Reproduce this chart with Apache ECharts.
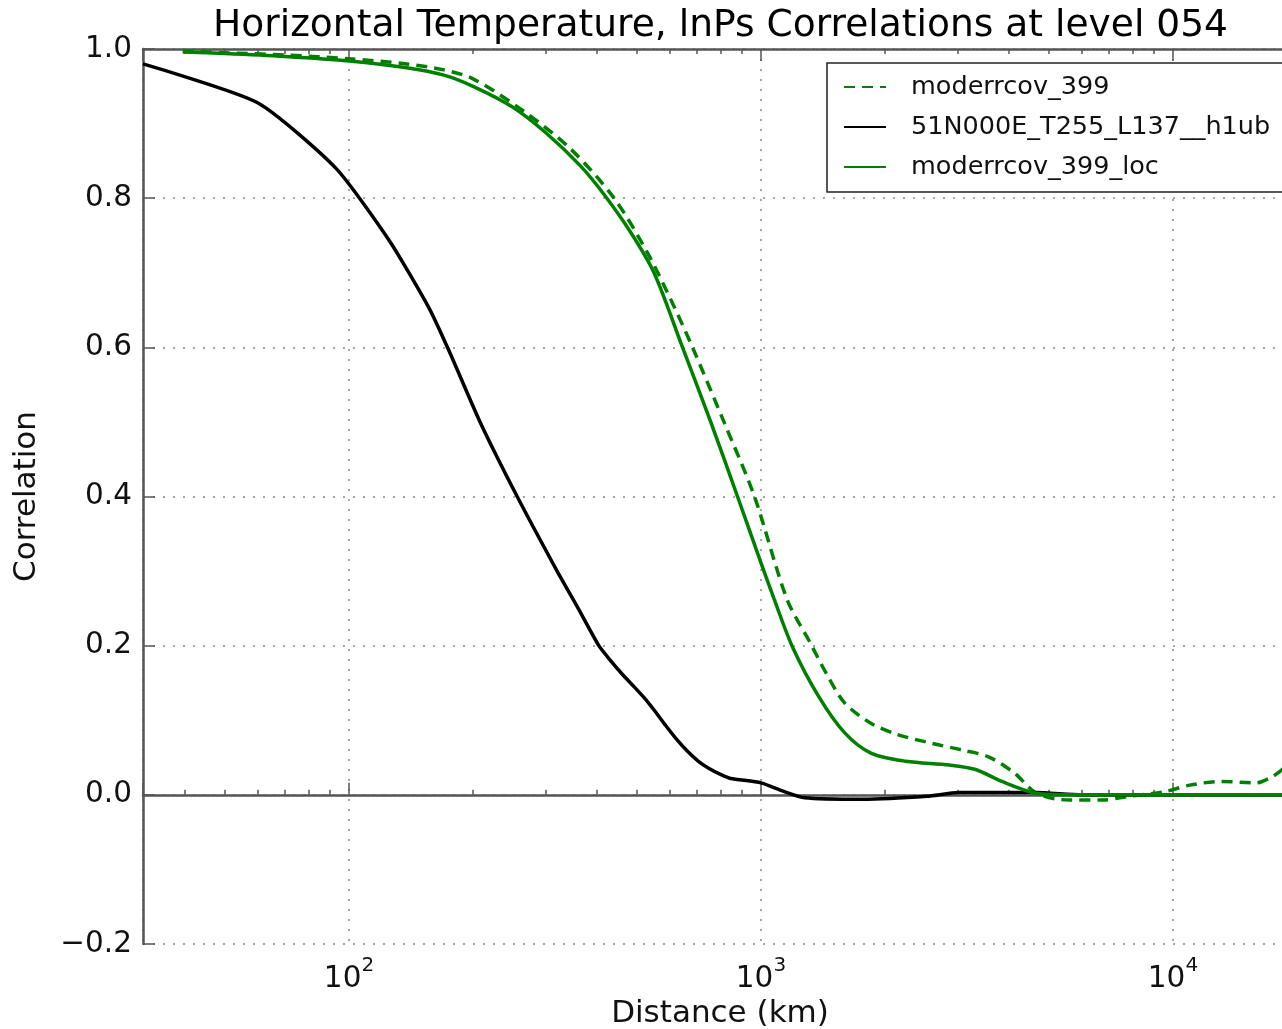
<!DOCTYPE html>
<html><head><meta charset="utf-8">
<script src="https://cdn.jsdelivr.net/npm/echarts@6/dist/echarts.min.js"></script>
<style>html,body{margin:0;padding:0;background:#fff}#c{width:1282px;height:1029px}</style>
</head><body><div id="c"></div>
<script>
// ---- data ----
const seriesNames = ['moderrcov_399', '51N000E_T255_L137__h1ub', 'moderrcov_399_loc'];

const distDash = [39.5, 50, 70, 100, 138, 170, 200, 265, 345, 440, 530, 604, 682, 813, 964, 1157, 1316, 1450, 1597, 1848, 2139, 2600, 3083, 3566, 4128, 4667, 5597, 6714, 7812, 9505, 10990, 13060, 15880, 17490, 18620, 20000];
const corrDash = [0.997, 0.995, 0.992, 0.987, 0.980, 0.972, 0.960, 0.917, 0.866, 0.800, 0.727, 0.664, 0.600, 0.500, 0.400, 0.262, 0.204, 0.160, 0.123, 0.096, 0.081, 0.069, 0.060, 0.051, 0.029, 0.002, -0.007, -0.007, -0.002, 0.004, 0.013, 0.018, 0.016, 0.025, 0.036, 0.050];

const distBlack = [31.62, 60, 93, 126, 157, 175, 208, 256, 320, 360, 404, 430, 460, 490, 521, 555, 587, 625, 664, 705, 750, 800, 844, 1000, 1130, 1276, 1762, 2534, 3013, 4660, 6000, 10000, 20000];
const corrBlack = [0.980, 0.928, 0.840, 0.741, 0.651, 0.595, 0.500, 0.400, 0.300, 0.250, 0.200, 0.181, 0.162, 0.146, 0.130, 0.111, 0.093, 0.074, 0.058, 0.045, 0.035, 0.027, 0.022, 0.016, 0.005, -0.004, -0.006, -0.002, 0.003, 0.003, 0.000, 0.000, 0.000];

const distLoc = [39.5, 50, 70, 100, 138, 170, 200, 250, 300, 365, 416, 483, 550, 645, 755, 877, 1000, 1077, 1191, 1380, 1597, 1848, 2247, 2866, 3318, 3840, 4667, 5500, 10000, 20000];
const corrLoc = [0.996, 0.994, 0.990, 0.984, 0.975, 0.965, 0.950, 0.922, 0.888, 0.843, 0.805, 0.754, 0.700, 0.600, 0.500, 0.400, 0.311, 0.262, 0.199, 0.132, 0.083, 0.056, 0.045, 0.040, 0.034, 0.018, 0.002, 0.000, 0.000, 0.000];

const minorTickValues = [40, 50, 60, 70, 80, 90, 200, 300, 400, 500, 600, 700, 800, 900, 2000, 3000, 4000, 5000, 6000, 7000, 8000, 9000];
const xMin = 31.6228, xMax = 20000;
const yMin = -0.2, yMax = 1.0, yStep = 0.2;

// ---- chart ----
const FONT = 'DejaVu Sans';
const axisCol = '#555';
const gridLine = { show: true, lineStyle: { type: [2, 8], color: '#888', width: 1.5 } };
const pair = (xs, ys) => xs.map((x, i) => [x, ys[i]]);

const baseX = (pos, extra) => Object.assign({
  type: 'log', logBase: 10, min: xMin, max: xMax, position: pos,
  axisLine: { show: true, lineStyle: { color: axisCol, width: 2.5 } },
  axisTick: { show: true, inside: true, length: 12, lineStyle: { color: axisCol, width: 1.5 } },
  axisLabel: { show: false },
  splitLine: { show: false }
}, extra);

const minorX = (pos) => ({
  type: 'log', logBase: 10, min: xMin, max: xMax, position: pos,
  axisLine: { show: false },
  axisTick: { show: true, inside: true, length: 5, customValues: minorTickValues, lineStyle: { color: axisCol, width: 1.5 } },
  axisLabel: { show: false },
  splitLine: { show: false }
});

const chart = echarts.init(document.getElementById('c'), null, { renderer: 'canvas' });
chart.setOption({
  animation: false,
  backgroundColor: '#fff',
  title: {
    text: 'Horizontal Temperature, lnPs Correlations at level 054',
    left: 213, top: 7, padding: 0,
    textStyle: { fontFamily: FONT, fontSize: 37.6, fontWeight: 'normal', color: '#000' }
  },
  grid: { left: 143, top: 49, width: 1154, height: 895, containLabel: false, outerBoundsMode: 'none' },
  legend: {
    data: seriesNames, orient: 'vertical', align: 'left',
    left: 827, top: 63, padding: [9, 24, 10, 16], itemGap: 10,
    itemWidth: 42, itemHeight: 14,
    borderColor: '#222', borderWidth: 1.5, backgroundColor: '#fff',
    itemStyle: { opacity: 0 },
    textStyle: { fontFamily: FONT, fontSize: 25.5, color: '#111', lineHeight: 30, padding: [0, 0, 0, 20] }
  },
  xAxis: [
    baseX('bottom', {
      name: 'Distance (km)', nameLocation: 'middle', nameGap: 52,
      nameTextStyle: { fontFamily: FONT, fontSize: 31, color: '#111' },
      splitLine: gridLine,
      axisLabel: {
        show: true, margin: 12, showMinLabel: true, showMaxLabel: true,
        formatter: function (v) {
          const l = Math.log10(v), e = Math.round(l);
          if (Math.abs(l - e) > 1e-6) return '';
          return '{b|10}{s|' + e + '}';
        },
        rich: {
          b: { fontFamily: FONT, fontSize: 29.5, color: '#111', verticalAlign: 'bottom', lineHeight: 38 },
          s: { fontFamily: FONT, fontSize: 20, color: '#111', verticalAlign: 'top', lineHeight: 38 }
        }
      }
    }),
    minorX('bottom'),
    baseX('top', {}),
    minorX('top')
  ],
  yAxis: [
    {
      type: 'value', min: yMin, max: yMax, interval: yStep, position: 'left',
      name: 'Correlation', nameLocation: 'middle', nameGap: 101,
      nameTextStyle: { fontFamily: FONT, fontSize: 31, color: '#111' },
      axisLine: { show: true, lineStyle: { color: axisCol, width: 2.5 } },
      axisTick: { show: true, inside: true, length: 12, lineStyle: { color: axisCol, width: 1.5 } },
      axisLabel: {
        margin: 11, fontFamily: FONT, fontSize: 29.5, color: '#111',
        formatter: v => (v < -1e-9 ? '\u2212' : '') + Math.abs(v).toFixed(1)
      },
      splitLine: gridLine
    },
    {
      type: 'value', min: yMin, max: yMax, interval: yStep, position: 'right',
      axisLine: { show: true, lineStyle: { color: axisCol, width: 2.5 } },
      axisTick: { show: true, inside: true, length: 12, lineStyle: { color: axisCol, width: 1.5 } },
      axisLabel: { show: false }, splitLine: { show: false }
    }
  ],
  series: [
    {
      name: seriesNames[0], type: 'line', xAxisIndex: 0, yAxisIndex: 0,
      data: pair(distDash, corrDash), symbol: 'none', smooth: 0.3,
      lineStyle: { color: '#008000', width: 3.5, type: [11, 7] }, itemStyle: { color: '#008000' }, z: 3
    },
    {
      name: seriesNames[1], type: 'line', xAxisIndex: 0, yAxisIndex: 0,
      data: pair(distBlack, corrBlack), symbol: 'none', smooth: 0.2,
      lineStyle: { color: '#000', width: 3.5 }, itemStyle: { color: '#000' }, z: 4
    },
    {
      name: seriesNames[2], type: 'line', xAxisIndex: 0, yAxisIndex: 0,
      data: pair(distLoc, corrLoc), symbol: 'none', smooth: 0.3,
      lineStyle: { color: '#008000', width: 3.5 }, itemStyle: { color: '#008000' }, z: 5
    }
  ]
});
</script></body></html>
